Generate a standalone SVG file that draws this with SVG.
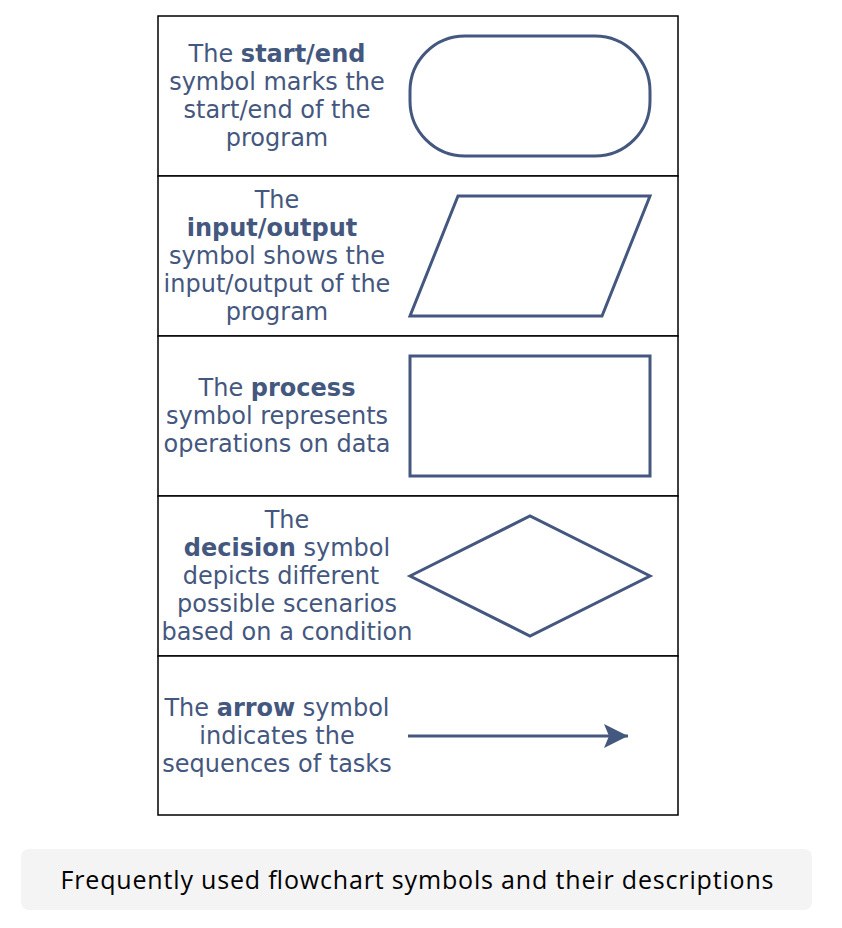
<svg xmlns="http://www.w3.org/2000/svg" width="842" height="928" viewBox="0 0 842 928">
<style>
.cell{fill:#ffffff;stroke:#000000;stroke-width:1.5}
.shape{fill:#ffffff;stroke:#44577e;stroke-width:3;stroke-linejoin:miter}
.t{font-family:"DejaVu Sans",Verdana,sans-serif;font-size:24px;fill:#44577e;text-anchor:middle}
.b{font-weight:bold}
.cap{font-family:"Open Sans","Lato",sans-serif;font-size:25px;fill:#000000;text-anchor:middle}
</style>
<defs>
<marker id="ah" viewBox="0 0 24 24" refX="24" refY="12" markerWidth="24" markerHeight="24" markerUnits="userSpaceOnUse" orient="auto">
<path d="M0,0 L24,12 L0,24 L5,12 Z" fill="#44577e"/>
</marker>
</defs>
<rect width="842" height="928" fill="#ffffff"/>
<g id="table">
<rect class="cell" x="158" y="16" width="520" height="160"/>
<rect class="cell" x="158" y="176" width="520" height="160"/>
<rect class="cell" x="158" y="336" width="520" height="160"/>
<rect class="cell" x="158" y="496" width="520" height="160"/>
<rect class="cell" x="158" y="656" width="520" height="159"/>
</g>
<g id="startend">
<rect class="shape" x="410" y="36" width="240" height="120" rx="55" ry="55"/>
<text class="t" x="277"><tspan x="277" y="62">The <tspan class="b">start/end</tspan></tspan><tspan x="277" y="90">symbol marks the</tspan><tspan x="277" y="118">start/end of the</tspan><tspan x="277" y="146">program</tspan></text>
</g>
<g id="inputoutput">
<polygon class="shape" points="458,196 650,196 602,316 410,316"/>
<text class="t" x="277"><tspan x="277" y="208">The</tspan><tspan x="272" y="236" class="b">input/output</tspan><tspan x="277" y="264">symbol shows the</tspan><tspan x="277" y="292">input/output of the</tspan><tspan x="277" y="320">program</tspan></text>
</g>
<g id="process">
<rect class="shape" x="410" y="356" width="240" height="120"/>
<text class="t" x="277"><tspan x="277" y="396">The <tspan class="b">process</tspan></tspan><tspan x="277" y="424">symbol represents</tspan><tspan x="277" y="452">operations on data</tspan></text>
</g>
<g id="decision">
<polygon class="shape" points="410,576 530,516 650,576 530,636"/>
<text class="t" x="287"><tspan x="287" y="528">The</tspan><tspan x="287" y="556"><tspan class="b">decision</tspan> symbol</tspan><tspan x="281" y="584">depicts different</tspan><tspan x="287" y="612">possible scenarios</tspan><tspan x="287" y="640">based on a condition</tspan></text>
</g>
<g id="arrow">
<text class="t" x="277"><tspan x="277" y="716">The <tspan class="b">arrow</tspan> symbol</tspan><tspan x="277" y="744">indicates the</tspan><tspan x="277" y="772">sequences of tasks</tspan></text>
</g>
<g id="connectors">
<line x1="408" y1="736" x2="628" y2="736" stroke="#44577e" stroke-width="3" marker-end="url(#ah)"/>
</g>
<g id="caption">
<rect x="21" y="849" width="791" height="61" rx="8" ry="8" fill="#f4f4f4"/>
<text class="cap" x="417" y="889" textLength="713">Frequently used flowchart symbols and their descriptions</text>
</g>
</svg>
